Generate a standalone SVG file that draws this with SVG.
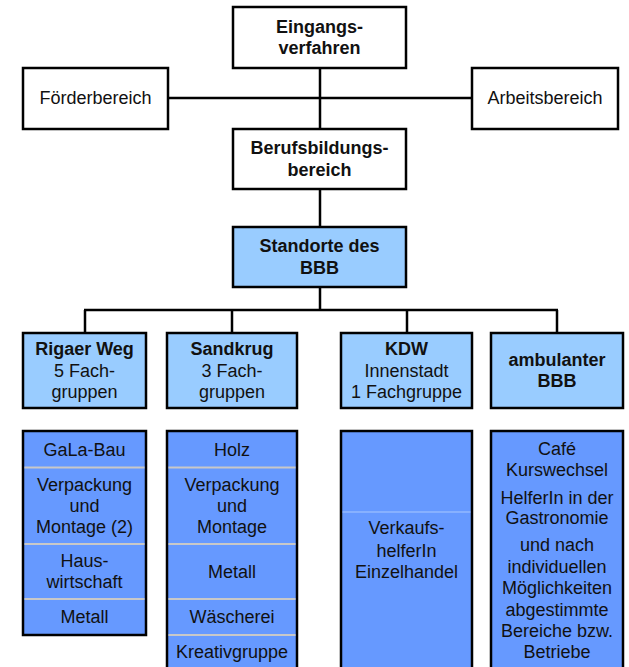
<svg xmlns="http://www.w3.org/2000/svg" width="629" height="667" viewBox="0 0 629 667">
<style>
.box{fill:#fff;stroke:#000;stroke-width:2.5}
.lb{fill:#99CCFF;stroke:#000;stroke-width:2.5}
.db{fill:#6699FF;stroke:#000;stroke-width:2.5}
.sep{stroke:#C8C8C8;stroke-width:2}
.sepl{stroke:#A8C8FF;stroke-width:1}
.con{stroke:#000;stroke-width:2.5;fill:none}
text{font-family:"Liberation Sans",Arial,sans-serif;font-size:18px;fill:#111;text-anchor:middle}
.b{font-weight:bold}
</style>
<rect width="629" height="667" fill="#fff"/>
<g id="connectors">
<line class="con" x1="168" y1="98" x2="472" y2="98"/>
<line class="con" x1="320" y1="68" x2="320" y2="129"/>
<line class="con" x1="320" y1="189" x2="320" y2="227"/>
<line class="con" x1="320" y1="287" x2="320" y2="310"/>
<line class="con" x1="84" y1="310" x2="558" y2="310"/>
<line class="con" x1="85" y1="310" x2="85" y2="333"/>
<line class="con" x1="232" y1="310" x2="232" y2="333"/>
<line class="con" x1="407" y1="310" x2="407" y2="333"/>
<line class="con" x1="557" y1="310" x2="557" y2="333"/>
</g>
<g id="eingang">
<rect class="box" x="233" y="7" width="173" height="61"/>
<text class="b" x="319.5" y="33">Eingangs-</text>
<text class="b" x="319.5" y="54">verfahren</text>
</g>
<g id="foerder">
<rect class="box" x="23" y="68" width="145" height="61"/>
<text x="95.5" y="104">Förderbereich</text>
</g>
<g id="arbeit">
<rect class="box" x="472" y="68" width="146" height="61"/>
<text x="545" y="104">Arbeitsbereich</text>
</g>
<g id="berufs">
<rect class="box" x="233" y="129" width="173" height="60"/>
<text class="b" x="319.5" y="154">Berufsbildungs-</text>
<text class="b" x="319.5" y="176">bereich</text>
</g>
<g id="standorte">
<rect class="lb" x="233" y="227" width="173" height="60"/>
<text class="b" x="319.5" y="252">Standorte des</text>
<text class="b" x="319.5" y="274">BBB</text>
</g>
<g id="rigaer">
<rect class="lb" x="23" y="333" width="123" height="75"/>
<text class="b" x="84.5" y="355">Rigaer Weg</text>
<text x="84.5" y="377">5 Fach-</text>
<text x="84.5" y="398">gruppen</text>
</g>
<g id="sandkrug">
<rect class="lb" x="167" y="333" width="130" height="75"/>
<text class="b" x="232" y="355">Sandkrug</text>
<text x="232" y="377">3 Fach-</text>
<text x="232" y="398">gruppen</text>
</g>
<g id="kdw">
<rect class="lb" x="341" y="333" width="131" height="75"/>
<text class="b" x="406.5" y="355">KDW</text>
<text x="406.5" y="377">Innenstadt</text>
<text x="406.5" y="398">1 Fachgruppe</text>
</g>
<g id="ambulant">
<rect class="lb" x="491" y="333" width="132" height="75"/>
<text class="b" x="557" y="366">ambulanter</text>
<text class="b" x="557" y="387">BBB</text>
</g>
<g id="rigaer-list">
<rect class="db" x="23" y="431" width="123" height="204"/>
<line class="sep" x1="24.5" y1="467.5" x2="144.5" y2="467.5"/>
<line class="sep" x1="24.5" y1="544" x2="144.5" y2="544"/>
<line class="sep" x1="24.5" y1="599" x2="144.5" y2="599"/>
<text x="84.5" y="456">GaLa-Bau</text>
<text x="84.5" y="491">Verpackung</text>
<text x="84.5" y="512">und</text>
<text x="84.5" y="533">Montage (2)</text>
<text x="84.5" y="567">Haus-</text>
<text x="84.5" y="588">wirtschaft</text>
<text x="84.5" y="623">Metall</text>
</g>
<g id="sandkrug-list">
<rect class="db" x="167" y="431" width="130" height="245"/>
<line class="sep" x1="168.5" y1="467.5" x2="295.5" y2="467.5"/>
<line class="sep" x1="168.5" y1="544" x2="295.5" y2="544"/>
<line class="sep" x1="168.5" y1="599" x2="295.5" y2="599"/>
<line class="sep" x1="168.5" y1="635" x2="295.5" y2="635"/>
<text x="232" y="456">Holz</text>
<text x="232" y="491">Verpackung</text>
<text x="232" y="512">und</text>
<text x="232" y="533">Montage</text>
<text x="232" y="578">Metall</text>
<text x="232" y="623">Wäscherei</text>
<text x="232" y="658">Kreativgruppe</text>
</g>
<g id="kdw-list">
<rect class="db" x="341" y="431" width="131" height="245"/>
<line class="sepl" x1="342.5" y1="512" x2="470.5" y2="512"/>
<text x="406.5" y="534">Verkaufs-</text>
<text x="406.5" y="557">helferIn</text>
<text x="406.5" y="578">Einzelhandel</text>
</g>
<g id="ambulant-list">
<rect class="db" x="491" y="431" width="132" height="245"/>
<text x="557" y="455">Café</text>
<text x="557" y="476">Kurswechsel</text>
<text x="557" y="504">HelferIn in der</text>
<text x="557" y="524">Gastronomie</text>
<text x="557" y="551">und nach</text>
<text x="557" y="573">individuellen</text>
<text x="557" y="594">Möglichkeiten</text>
<text x="557" y="616">abgestimmte</text>
<text x="557" y="637">Bereiche bzw.</text>
<text x="557" y="658">Betriebe</text>
</g>
</svg>
